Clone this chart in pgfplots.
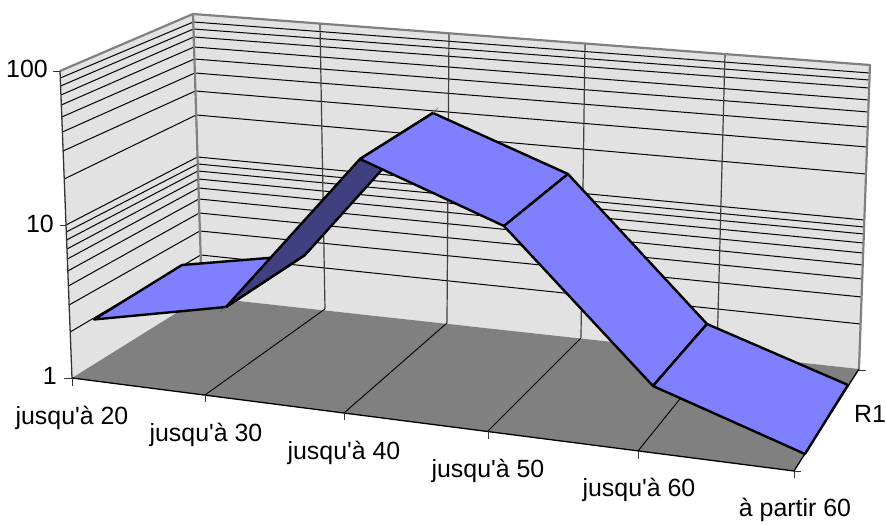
\documentclass[border=0pt]{standalone}
\usepackage{pgfplots}
\pgfplotsset{compat=1.18}
\usepackage{fontspec}
\setmainfont{Liberation Sans}[Ligatures=TeXOff]
\definecolor{wallc}{HTML}{E2E2E2}
\definecolor{floorc}{HTML}{808080}
\definecolor{ribbon}{HTML}{8080FF}
\definecolor{ribbondark}{HTML}{404080}
\tikzset{
    gridln/.style={draw=black, line width=1bp},
    walledge/.style={draw=floorc, line width=2.2bp},
    tickln/.style={draw=black!80, line width=0.9bp},
    segm/.style={fill=ribbon, draw=black, line width=2.4bp},
    lab/.style={font=\fontsize{25}{30}\selectfont, inner sep=0pt},
}

\begin{document}
\begin{tikzpicture}
% the chart is drawn in perspective, so the axis simply runs in image pixels
\begin{axis}[
    scale only axis,
    width=886bp,
    height=525bp,
    xmin=0, xmax=886,
    ymin=0, ymax=525,
    y dir=reverse,
    hide axis,
    clip=false,
    unbounded coords=jump,
    every axis plot/.append style={line join=round},
]

% hide axis drops the box, this keeps the page at the full size
\addplot[draw=none] coordinates {(0,0) (886,525)};

% walls and floor
\addplot[fill=wallc, draw=none] coordinates {(60,71) (193,14) (202,297) (72,378)} -- cycle;
\addplot[fill=wallc, draw=none] coordinates {(193,14) (870,65) (859,369) (202,297)} -- cycle;
\addplot[fill=floorc, draw=none] coordinates {(72,378) (202,297) (859,369) (794,471)} -- cycle;

% left wall gridlines, log 90..20 and 10, 9..2
\addplot[gridln] coordinates {
    (60.3,78) (193.3,22) (nan,nan) (60.6,86) (193.5,29) (nan,nan)
    (61,95) (193.7,37) (nan,nan) (61.3,105) (194,47) (nan,nan)
    (61.8,117) (194.4,59) (nan,nan) (62.4,132) (194.9,73) (nan,nan)
    (63.1,151) (195.4,91) (nan,nan) (64.2,179) (196.2,115) (nan,nan)
    (66,225) (197.5,157) (nan,nan) (66.3,232) (197.8,164) (nan,nan)
    (66.6,240) (198,171) (nan,nan) (67,249) (198.2,179) (nan,nan)
    (67.4,259) (198.5,188) (nan,nan) (67.8,271) (198.9,199) (nan,nan)
    (68.4,286) (199.3,213) (nan,nan) (69.1,305) (199.9,231) (nan,nan)
    (70.2,332) (200.7,255)
};
% back wall gridlines
\addplot[gridln] coordinates {
    (193.3,22) (869.7,73) (nan,nan) (193.5,29) (869.5,80) (nan,nan)
    (193.7,37) (869.2,88) (nan,nan) (194,47) (868.7,100) (nan,nan)
    (194.4,59) (868.3,112) (nan,nan) (194.9,73) (867.8,127) (nan,nan)
    (195.4,91) (867,147) (nan,nan) (196.2,115) (866,174) (nan,nan)
    (197.5,157) (864.4,220) (nan,nan) (197.8,164) (864.1,227) (nan,nan)
    (198,171) (863.9,234) (nan,nan) (198.2,179) (863.6,243) (nan,nan)
    (198.5,188) (863.2,253) (nan,nan) (198.9,199) (862.8,265) (nan,nan)
    (199.3,213) (862.3,279) (nan,nan) (199.9,231) (861.7,297) (nan,nan)
    (200.7,255) (860.6,324)
};
% category gridlines on the back wall
\addplot[draw=black!75, line width=1.2bp] coordinates {
    (320,24) (325,309) (nan,nan) (449,33) (447,323) (nan,nan)
    (585,44) (581,338) (nan,nan) (725,55) (717,353)
};
% category lines across the floor
\addplot[draw=black, line width=0.9bp] coordinates {
    (205,395) (325,309) (nan,nan) (344,413) (447,323) (nan,nan)
    (488,431) (581,338) (nan,nan) (638,451) (717,353)
};

% wall edges
\addplot[walledge] coordinates {(60,71) (193,14) (870,65) (859,369)};
\addplot[walledge] coordinates {(193,14) (202,297)};
\addplot[draw=black!80, line width=1.3bp] coordinates {(60,71) (72,378)};
\addplot[draw=black, line width=1.3bp] coordinates {(72,378) (794,471) (859,369)};

% ticks
\addplot[tickln] coordinates {
    (53,71) (60,71) (nan,nan) (60,225) (66,225) (nan,nan) (64,378) (72,378) (nan,nan)
    (72,378) (72,386) (nan,nan) (205,395) (205,402) (nan,nan) (344,413) (344,420) (nan,nan)
    (488,431) (488,439) (nan,nan) (638,451) (638,459) (nan,nan) (794,471) (794,478) (nan,nan)
    (794,471) (801,471) (nan,nan) (859,370) (866,370)
};

% the series, back to front: segment tops and the dark underside
\addplot[segm] coordinates {(94,319.5) (226,307) (305,255) (182,265)} -- cycle;
\addplot[fill=ribbondark, draw=black, line width=2.4bp] coordinates {(226,307) (360,159) (433,113) (305,255)} -- cycle;
\addplot[segm] coordinates {(360,159) (504,226) (568,174) (433,113)} -- cycle;
\addplot[segm] coordinates {(504,226) (653,386) (707,324) (568,174)} -- cycle;
\addplot[segm] coordinates {(653,386) (805,454) (848,385) (707,324)} -- cycle;

% stubs poking out of the surface
\addplot[draw=black!60, line width=0.6bp] coordinates {(220,312) (226,307) (nan,nan) (433,113) (438,108)};

% value labels
\node[lab, anchor=base east] at (axis cs:48,78) {100};
\node[lab, anchor=base east] at (axis cs:54,233) {10};
\node[lab, anchor=base east] at (axis cs:57,385) {1};

% category labels
\node[lab, anchor=base] at (axis cs:72,425) {jusqu'à 20};
\node[lab, anchor=base] at (axis cs:206,442) {jusqu'à 30};
\node[lab, anchor=base] at (axis cs:344,460) {jusqu'à 40};
\node[lab, anchor=base] at (axis cs:488,478) {jusqu'à 50};
\node[lab, anchor=base] at (axis cs:639,497) {jusqu'à 60};
\node[lab, anchor=base] at (axis cs:795,517) {à partir 60};
\node[lab, anchor=base west] at (axis cs:854,423) {R1};

\end{axis}
\end{tikzpicture}
\end{document}
